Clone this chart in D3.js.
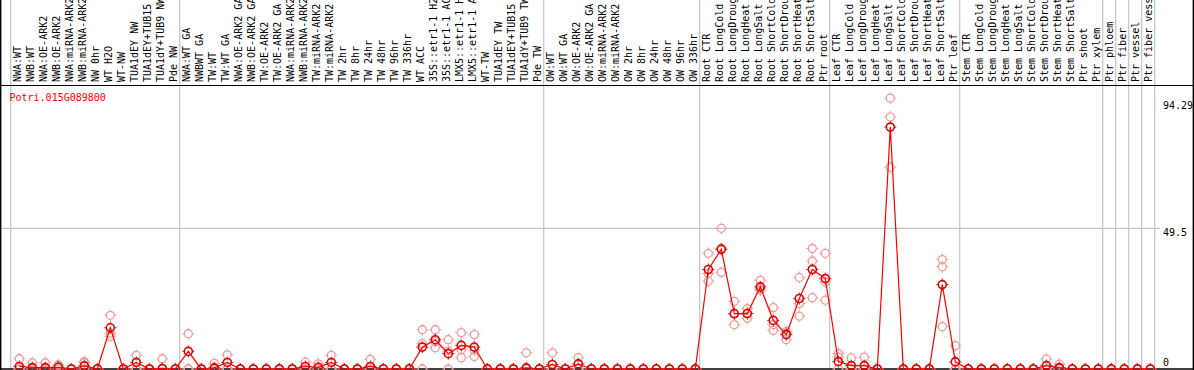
<!DOCTYPE html>
<html><head><meta charset="utf-8">
<script src="https://cdn.jsdelivr.net/npm/d3@7"></script>
<style>html,body{margin:0;padding:0;background:#fff;overflow:hidden}svg{display:block}</style>
</head><body>
<script>
const geneId = "Potri.015G089800";
const labels = [
 "NWA:WT","NWB:WT","NWA:OE-ARK2","NWB:OE-ARK2","NWA:miRNA-ARK2","NWB:miRNA-ARK2","NW 0hr","WT H2O","WT-NW","TUA1dEY NW","TUA1dEY+TUB15 NW","TUA1dY+TUB9 NW","Pde NW",
 "NWA:WT GA","NWBWT GA","TW:WT","TW:WT GA","NWA:OE-ARK2 GA","NWB:OE-ARK2 GA","TW:OE-ARK2","TW:OE-ARK2 GA","NWA:miRNA-ARK2 GA","NWB:miRNA-ARK2 GA","TW:miRNA-ARK2","TW:miRNA-ARK2 GA","TW 2hr","TW 8hr","TW 24hr","TW 48hr","TW 96hr","TW 336hr","WT ACC","35S::etr1-1 H2O","35S::etr1-1 ACC","LMX5::etr1-1 H2O","LMX5::etr1-1 ACC","WT-TW","TUA1dEY TW","TUA1dEY+TUB15 TW","TUA1dY+TUB9 TW","Pde TW",
 "OW:WT","OW:WT GA","OW:OE-ARK2","OW:OE-ARK2 GA","OW:miRNA-ARK2","OW:miRNA-ARK2 GA","OW 2hr","OW 8hr","OW 24hr","OW 48hr","OW 96hr","OW 336hr",
 "Root CTR","Root LongCold","Root LongDrought","Root LongHeat","Root LongSalt","Root ShortCold","Root ShortDrought","Root ShortHeat","Root ShortSalt","Ptr root",
 "Leaf CTR","Leaf LongCold","Leaf LongDrought","Leaf LongHeat","Leaf LongSalt","Leaf ShortCold","Leaf ShortDrought","Leaf ShortHeat","Leaf ShortSalt","Ptr leaf",
 "Stem CTR","Stem LongCold","Stem LongDrought","Stem LongHeat","Stem LongSalt","Stem ShortCold","Stem ShortDrought","Stem ShortHeat","Stem ShortSalt","Ptr shoot","Ptr xylem",
 "Ptr phloem","Ptr fiber","Ptr vessel","Ptr fiber vessel"
];
// group boundaries (column index where a separator line is drawn)
const groupBreaks = [0,13,41,53,63,73,84,85,86,87,88];
const means = [
 0.9,0.5,0.5,0.6,0,1.1,0,14.5,0,2.3,0,0.2,0,
 6.2,0,0.4,2.3,0,0,0,0,0,0.9,0.6,2.3,0,0,0.9,0,0,0,7.7,10.3,5.4,8.3,7.7,0,0,0,0.4,0,
 1.6,0,1.8,0,0,0,0,0,0,0,0,0,
 35.0,42.1,19.5,19.5,28.9,17.1,12.1,24.8,35.0,31.8,
 2.6,1.2,1.2,0,85.1,0,0,0,29.7,2.5,
 0,0,0,0,0,0,1.2,0.5,0,0,0,
 0,0,0,0
];
const replicates = [
 [3.6,0,0],[2.2,0,0],[2.2,0,0],[1.5,1.0,0],[0,0,0],[2.6,2.2,0],[0,0,0],[18.9,12.6,11.5],[0,0,0],[4.8,0,0],[0,0,0],[3.6,0,0],[0,0,0],
 [12.4,0,0],[0,0,0],[2.0,0,0],[5.0,0,0],[0,0,0],[0,0,0],[0,0,0],[0,0,0],[0,0,0],[2.4,0,0],[1.8,0,0],[4.8,0,0],[0,0,0],[0,0,0],[3.4,0,0],[0,0,0],[0,0,0],[0,0,0],
 [13.8,8.9,0],[13.8,7.5,9.6],[10.3,6.3,0],[12.8,6.9,4.0],[12.1,6.6,4.4],[0,0,0],[0,0,0],[0,0,0],[5.7,0,0],[0,0,0],
 [5.7,0,0],[0,0,0],[4.0,0,0],[0,0,0],[0,0,0],[0,0,0],[0,0,0],[0,0,0],[0,0,0],[0,0,0],[0,0,0],[0,0,0],
 [40.7,33.6,30.9],[49.5,34.0,42.5],[23.8,19.2,15.6],[21.2,19.6,17.9],[31.2,28.2,27.7],[21.6,15.6,13.6],[13.2,12.6,10.3],[32.2,23.0,18.6],[42.4,38.0,25.1],[40.7,30.6,24.2],
 [5.4,4.2,0],[3.9,0,0],[4.2,0,0],[0,0,0],[95.3,88.7,71.0],[0,0,0],[0,0,0],[0,0,0],[38.5,36.0,14.9],[8.2,0,0],
 [0,0,0],[0,0,0],[0,0,0],[0,0,0],[0,0,0],[0,0,0],[3.5,0,0],[1.7,0,0],[0,0,0],[0,0,0],[0,0,0],
 [0,0,0],[0,0,0],[0,0,0],[0,0,0]
];
const yTicks = [0, 49.5, 94.29];
const gridTicks = [49.5];

const W = 1194, H = 370;
const svg = d3.select("body").append("svg").attr("width", W).attr("height", H);
const font = "'DejaVu Sans Mono', monospace";

const xb = d3.scaleBand().domain(labels).range([10.7, 10.7 + 13 * labels.length]).padding(0);
const px = d => xb(d) + 8.6;
const boundary = k => xb.range()[0] + k * xb.step();
const y = d3.scaleLinear().domain([0, 49.5]).range([369, 228.3]);

// gray separators
svg.append("g").selectAll("line").data(groupBreaks).join("line")
  .attr("x1", k => boundary(k)).attr("x2", k => boundary(k))
  .attr("y1", 0).attr("y2", 369)
  .attr("stroke", "#c4c4c4").attr("stroke-width", 1.2);
svg.append("g").selectAll("line").data(gridTicks).join("line")
  .attr("x1", 1).attr("x2", 1160).attr("y1", d => y(d)).attr("y2", d => y(d))
  .attr("stroke", "#c4c4c4").attr("stroke-width", 1.2);

// frame
svg.append("line").attr("x1", 0).attr("x2", W).attr("y1", 85.5).attr("y2", 85.5).attr("stroke", "#000").attr("stroke-width", 1.2);
svg.append("line").attr("x1", 0).attr("x2", W).attr("y1", 369).attr("y2", 369).attr("stroke", "#000").attr("stroke-width", 1.5);
svg.append("line").attr("x1", 0.7).attr("x2", 0.7).attr("y1", 0).attr("y2", H).attr("stroke", "#000").attr("stroke-width", 1.4);
svg.append("line").attr("x1", 1193.3).attr("x2", 1193.3).attr("y1", 0).attr("y2", H).attr("stroke", "#000").attr("stroke-width", 1.4);

// column labels
svg.append("g").selectAll("text").data(labels).join("text")
  .attr("transform", d => `translate(${px(d) + 1.5},82) rotate(-90)`)
  .attr("font-family", font).attr("font-size", 10).attr("fill", "#000")
  .text(d => d);

// title
svg.append("text").attr("x", 9.5).attr("y", 100.5).attr("font-family", font).attr("font-size", 10)
  .attr("fill", "#ff0000").text(geneId);

// y labels
svg.append("g").selectAll("text").data(yTicks).join("text")
  .attr("x", 1163).attr("y", d => d === 0 ? y(d) - 3 : y(d) + 8)
  .attr("font-family", font).attr("font-size", 10).attr("fill", "#000")
  .text(d => String(d));

function marker(g, color, sw) {
  g.append("circle").attr("r", 4).attr("fill", "none").attr("stroke", color).attr("stroke-width", sw);
  [[0,-1],[0,1],[-1,0],[1,0]].forEach(([dx,dy]) => {
    g.append("line").attr("x1", dx*4.5).attr("y1", dy*4.5).attr("x2", dx*6).attr("y2", dy*6)
      .attr("stroke", color).attr("stroke-width", 1);
  });
}

// replicates
const repData = [];
labels.forEach((l, i) => replicates[i].forEach(v => repData.push({l, v})));
svg.append("g").selectAll("g").data(repData).join("g")
  .attr("transform", d => `translate(${px(d.l)},${y(d.v)})`)
  .each(function(){ marker(d3.select(this), "#f09a9a", 1.3); });

// mean line
const line = d3.line().x((d, i) => px(labels[i])).y(d => y(d));
svg.append("path").attr("d", line(means)).attr("fill", "none").attr("stroke", "#ff0000").attr("stroke-width", 1.2);

// mean markers
svg.append("g").selectAll("g").data(means).join("g")
  .attr("transform", (d, i) => `translate(${px(labels[i])},${y(d)})`)
  .each(function(){ marker(d3.select(this), "#e00000", 1.6); });
</script>
</body></html>
